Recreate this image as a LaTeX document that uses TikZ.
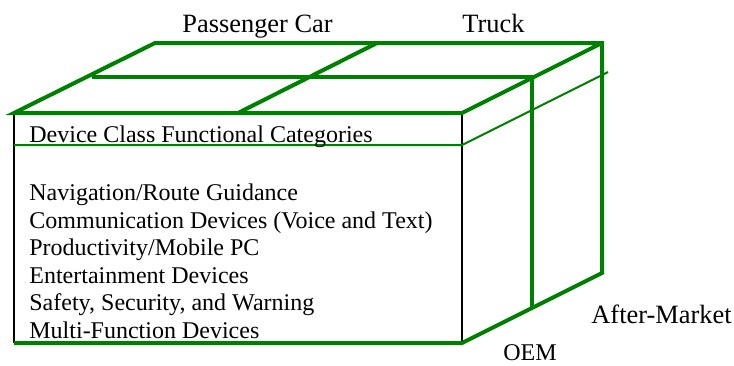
\documentclass[tikz,border=0pt]{standalone}
\usepackage{fontspec}
\setmainfont{Liberation Serif}
\usepackage{xcolor}
\usepackage{tikz}
\definecolor{boxGreen}{HTML}{008000}

\begin{document}
\begin{tikzpicture}[
  x=.5pt,y=-.5pt,
  edge/.style={draw=boxGreen,line width=2pt},
  rule/.style={draw=boxGreen,line width=1pt},
  face/.style={draw=black,line width=.8pt},
  lab/.style={font=\fontsize{12}{14}\selectfont,inner sep=0pt},
  biglab/.style={font=\fontsize{13.2}{15}\selectfont,inner sep=0pt}
]
  \useasboundingbox (0,0) rectangle (734,365);
  \coordinate (ftl) at (14,113);
  \coordinate (ftr) at (462,113);
  \coordinate (fbl) at (14,343);
  \coordinate (fbr) at (462,343);
  \coordinate (btl) at (155,43);
  \coordinate (btr) at (602,43);
  \coordinate (bbr) at (602,273);
  \coordinate (mtl) at (92,77);
  \coordinate (mtr) at (532,77);
  \coordinate (mbr) at (532,308);
  \coordinate (dfr) at (238,113);
  \coordinate (dbk) at (377,43);
  \coordinate (hl) at (14,145);
  \coordinate (hr) at (462,145);
  \coordinate (hk) at (608,72);
  \draw[face] (ftl) -- (fbl);
  \draw[face] (ftr) -- (fbr);
  \draw[rule] (hl) -- (hr) -- (hk);
  \draw[edge] (fbl) -- (fbr) -- (mbr) -- (bbr) -- (btr) -- (btl) -- (ftl) -- (ftr) -- (btr);
  \draw[edge] (mtl) -- (mtr) -- (mbr);
  \draw[edge] (dfr) -- (dbk);
  \node[biglab,anchor=base west] (car) at (182,32) {Passenger Car};
  \node[biglab,anchor=base west] (truck) at (462,32) {Truck};
  \node[biglab,anchor=base west] (after) at (591,323) {After-Market};
  \node[lab,anchor=base west] (oem) at (503,360) {OEM};
  \node[lab,anchor=base west] (head) at (29,142) {Device Class Functional Categories};
  \foreach \y/\lab [count=\i] in {200.7/{Navigation/Route Guidance},
      228.2/{Communication Devices (Voice and Text)},
      255.7/{Productivity/Mobile PC},
      283.2/{Entertainment Devices},
      310.7/{Safety, Security, and Warning},
      338.2/{Multi-Function Devices}}{
    \node[lab,anchor=base west] (cat\i) at (29,\y) {\lab};
  }
\end{tikzpicture}
\end{document}
